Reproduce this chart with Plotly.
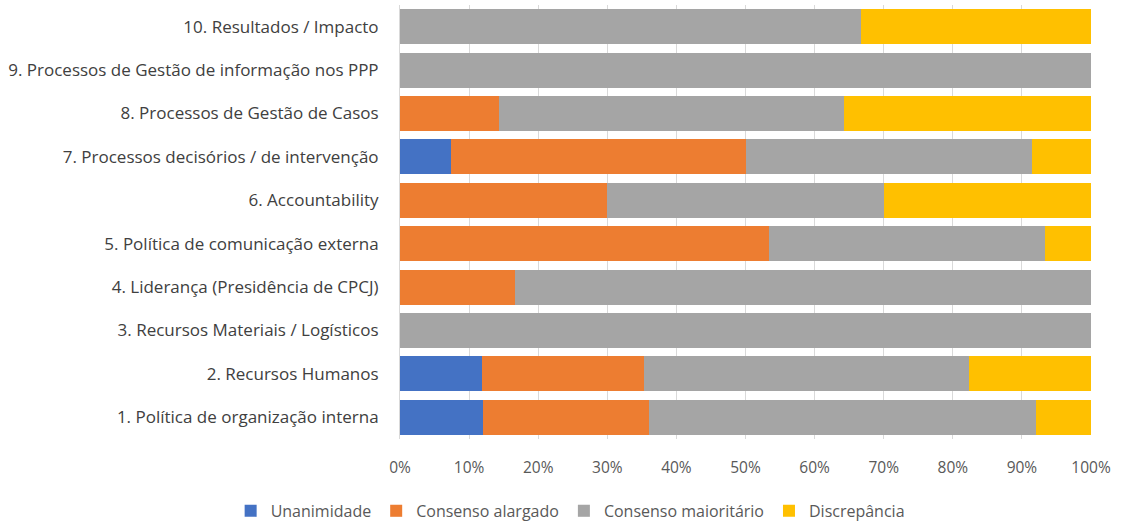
import plotly.graph_objects as go

# Dimensions, listed bottom to top as they appear on the y axis
categories = [
    "1. Política de organização interna",
    "2. Recursos Humanos",
    "3. Recursos Materiais / Logísticos",
    "4. Liderança (Presidência de CPCJ)",
    "5. Política de comunicação externa",
    "6. Accountability",
    "7. Processos decisórios / de intervenção",
    "8. Processos de Gestão de Casos",
    "9. Processos de Gestão de informação nos PPP",
    "10. Resultados / Impacto",
]

# Share of each agreement level per dimension (%)
unanimidade = [12.0, 11.8, 0, 0, 0, 0, 7.4, 0, 0, 0]
consenso_alargado = [24.0, 23.5, 0, 16.7, 53.4, 30.0, 42.6, 14.3, 0, 0]
consenso_maioritario = [56.0, 47.1, 100.0, 83.3, 40.0, 40.0, 41.4, 50.0, 100.0, 66.7]
discrepancia = [8.0, 17.6, 0, 0, 6.6, 30.0, 8.6, 35.7, 0, 33.3]

series = [
    ("Unanimidade", unanimidade, "#4472C4"),
    ("Consenso alargado", consenso_alargado, "#ED7D31"),
    ("Consenso maioritário", consenso_maioritario, "#A5A5A5"),
    ("Discrepância", discrepancia, "#FFC000"),
]

FONT = "Open Sans"

fig = go.Figure()
for name, vals, color in series:
    fig.add_trace(go.Bar(
        y=categories,
        x=vals,
        name=name,
        orientation="h",
        marker=dict(color=color, line=dict(width=0)),
        hoverinfo="name+x",
    ))

fig.update_layout(
    barmode="stack",
    bargap=0.19,
    width=1129,
    height=524,
    margin=dict(l=400, r=38, t=5, b=85),
    paper_bgcolor="white",
    plot_bgcolor="white",
    font=dict(family=FONT, size=16, color="#404040"),
    xaxis=dict(
        range=[0, 100],
        dtick=10,
        ticksuffix="%",
        showgrid=True,
        gridcolor="#D9D9D9",
        gridwidth=1,
        zeroline=False,
        showline=False,
        tickfont=dict(family=FONT, size=15.5, color="#595959"),
        ticks="",
        ticklabelstandoff=17,
    ),
    yaxis=dict(
        showgrid=False,
        showline=True,
        linecolor="#D9D9D9",
        linewidth=1,
        ticks="",
        tickfont=dict(family=FONT, size=17, color="#404040"),
        ticklabelstandoff=17,
    ),
    legend=dict(
        orientation="h",
        xref="container",
        yref="container",
        x=0.505,
        xanchor="center",
        y=0.025,
        yanchor="middle",
        font=dict(family=FONT, size=16, color="#595959"),
        itemwidth=30,
        traceorder="normal",
    ),
)

fig.write_html("out.html")
